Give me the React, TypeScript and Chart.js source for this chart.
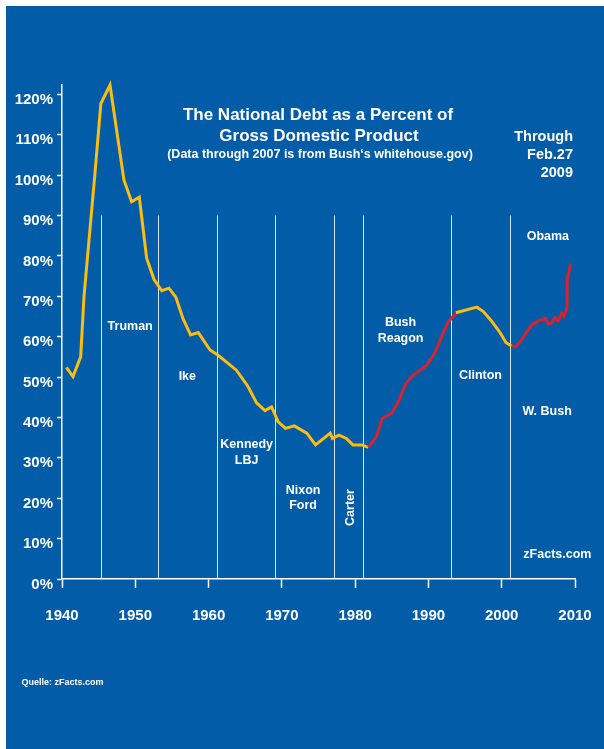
import React, { useEffect, useRef } from "react";
import { Chart, registerables } from "chart.js";

Chart.register(...registerables);

// ---- data ----
const years = [
  1940.6, 1941.5, 1942.55, 1943.0, 1944.5, 1945.3, 1946.55, 1948.45, 1949.5, 1950.55,
  1951.55, 1952.55, 1953.6, 1954.6, 1955.55, 1956.5, 1957.55, 1958.6, 1960.2, 1961.3,
  1963.8, 1965.4, 1966.55, 1967.7, 1968.6, 1969.5, 1970.5, 1971.7, 1973.4, 1974.6,
  1976.6, 1976.9, 1977.8, 1978.8, 1979.7, 1980.9, 1981.8, 1982.9, 1983.7, 1985.0,
  1986.0, 1986.9, 1987.7, 1989.7, 1990.9, 1991.8, 1992.7, 1993.6, 1993.75, 1996.6,
  1997.5, 1998.6, 1999.7, 2000.6, 2001.35, 2001.9, 2002.7, 2004.1, 2005.0, 2006.0,
  2006.35, 2006.8, 2007.25, 2007.7, 2008.2, 2008.5, 2008.9, 2008.95, 2009.2, 2009.4,
];
const debtPct = [
  52.4, 50.1, 55.0, 69.9, 100.5, 117.7, 122.3, 98.8, 93.4, 94.5,
  79.4, 74.2, 71.4, 72.0, 69.7, 64.5, 60.4, 61.0, 56.7, 55.4,
  51.7, 47.6, 43.6, 41.7, 42.6, 38.9, 37.3, 37.9, 36.1, 33.2,
  36.1, 34.8, 35.6, 34.8, 33.2, 33.2, 32.6, 35.2, 39.8, 41.0,
  44.3, 48.3, 50.1, 52.8, 56.0, 60.0, 63.7, 65.5, 65.9, 67.3,
  66.2, 63.9, 61.2, 58.5, 57.7, 57.5, 59.2, 62.9, 63.9, 64.5,
  63.1, 63.4, 64.8, 63.9, 65.8, 65.1, 67.0, 74.7, 76.1, 78.1,
];
// spans drawn in red (Republican administrations 1981-93, 2001-09)
const redSpans: [number, number][] = [
  [1981.5, 1993.65],
  [2001.3, 2010],
];
// start of each administration (vertical separators)
const termStarts = [1945.3, 1953.1, 1961.1, 1969.1, 1977.1, 1981.1, 1993.1, 2001.1];
const termLineTopPct = 90;

const xMin = 1940;
const xMax = 2010;
const yMin = 0;
const yMax = 122.3;
const yStep = 10;
const xStep = 10;

const presidentLabels = [
  { lines: ["Truman"], year: 1949.3, pct: 62.6, rotate: false },
  { lines: ["Ike"], year: 1957.1, pct: 50.2, rotate: false },
  { lines: ["Kennedy", "LBJ"], year: 1965.2, pct: 33.2, rotate: false },
  { lines: ["Nixon", "Ford"], year: 1972.9, pct: 21.9, rotate: false },
  { lines: ["Carter"], year: 1979.4, pct: 17.7, rotate: true },
  { lines: ["Bush", "Reagon"], year: 1986.2, pct: 63.4, rotate: false },
  { lines: ["Clinton"], year: 1997.1, pct: 50.3, rotate: false },
  { lines: ["W. Bush"], year: 2006.2, pct: 41.4, rotate: false },
  { lines: ["Obama"], year: 2006.3, pct: 84.9, rotate: false },
  { lines: ["zFacts.com"], year: 2007.6, pct: 6.0, rotate: false },
];

const titleLines = ["The National Debt as a Percent of", "Gross Domestic Product"];
const subtitle = "(Data through 2007 is from Bush\u2018s whitehouse.gov)";
const throughLines = ["Through", "Feb.27", "2009"];
const sourceText = "Quelle: zFacts.com";

// ---- styles ----
const BLUE = "#035CA8";
const YELLOW = "#FBBD12";
const RED = "#D8232E";
const WHITE = "#FFFFFF";
const FONT = '"Liberation Sans", Arial, Helvetica, sans-serif';

const isRed = (x: number) => redSpans.some(([a, b]) => x >= a && x < b);

const bgPlugin = {
  id: "bgPlugin",
  beforeDraw(chart: any) {
    const { ctx, width, height } = chart;
    ctx.save();
    ctx.fillStyle = "#FFFFFF";
    ctx.fillRect(0, 0, width, height);
    ctx.fillStyle = BLUE;
    ctx.fillRect(6, 6, width - 6, height - 6);
    ctx.restore();
  },
};

const termPlugin = {
  id: "termPlugin",
  beforeDatasetsDraw(chart: any) {
    const { ctx, scales } = chart;
    const xs = scales.x;
    const ys = scales.y;
    ctx.save();
    ctx.strokeStyle = "rgba(255,255,255,0.85)";
    ctx.lineWidth = 1;
    const top = ys.getPixelForValue(termLineTopPct);
    const bottom = ys.getPixelForValue(0);
    termStarts.forEach((yr) => {
      const px = Math.round(xs.getPixelForValue(yr)) + 0.5;
      ctx.beginPath();
      ctx.moveTo(px, top);
      ctx.lineTo(px, bottom);
      ctx.stroke();
    });
    ctx.restore();
  },
};

const textPlugin = {
  id: "textPlugin",
  afterDraw(chart: any) {
    const { ctx, scales } = chart;
    const xs = scales.x;
    const ys = scales.y;
    ctx.save();
    ctx.fillStyle = WHITE;
    ctx.textBaseline = "middle";

    // president labels
    ctx.font = `bold 12.5px ${FONT}`;
    presidentLabels.forEach((l) => {
      const px = xs.getPixelForValue(l.year);
      const py = ys.getPixelForValue(l.pct);
      if (l.rotate) {
        ctx.save();
        ctx.translate(px, py);
        ctx.rotate(-Math.PI / 2);
        ctx.textAlign = "center";
        ctx.fillText(l.lines[0], 0, 0);
        ctx.restore();
      } else {
        ctx.textAlign = "center";
        l.lines.forEach((t, i) => ctx.fillText(t, px, py + i * 15.5));
      }
    });

    // title
    ctx.textAlign = "center";
    ctx.font = `bold 17px ${FONT}`;
    ctx.fillText(titleLines[0], 318, 115);
    ctx.fillText(titleLines[1], 319, 136.5);
    ctx.font = `bold 12.5px ${FONT}`;
    ctx.fillText(subtitle, 320, 155);

    // through
    ctx.textAlign = "right";
    ctx.font = `bold 14.5px ${FONT}`;
    throughLines.forEach((t, i) => ctx.fillText(t, 573, 136.5 + i * 18));

    // source
    ctx.textAlign = "left";
    ctx.font = `bold 9px ${FONT}`;
    ctx.fillText(sourceText, 21.5, 683);
    ctx.restore();
  },
};

export default function App() {
  const canvasRef = useRef<HTMLCanvasElement | null>(null);

  useEffect(() => {
    if (!canvasRef.current) return;
    const points = years.map((x, i) => ({ x, y: debtPct[i] }));
    const chart = new Chart(canvasRef.current, {
      type: "line",
      data: {
        datasets: [
          {
            data: points,
            borderColor: YELLOW,
            borderWidth: 3,
            pointRadius: 0,
            tension: 0,
            clip: false as any,
            segment: {
              borderColor: (ctx: any) => (isRed(ctx.p0.parsed.x) ? RED : YELLOW),
            },
          },
        ],
      },
      options: {
        animation: false,
        responsive: false,
        devicePixelRatio: 1,
        parsing: false as any,
        layout: { padding: { left: 0, top: 85, right: 29, bottom: 120 } },
        plugins: {
          legend: { display: false },
          tooltip: { enabled: false },
          title: { display: false },
        },
        scales: {
          x: {
            type: "linear",
            min: xMin,
            max: xMax,
            afterFit: (s: any) => {
              s.height = 50;
              s.paddingLeft = 0;
              s.paddingRight = 0;
            },
            ticks: {
              stepSize: xStep,
              color: WHITE,
              padding: 19,
              font: { family: FONT, size: 15, weight: "bold" },
              callback: (v: any) => String(v),
              maxRotation: 0,
            },
            grid: {
              drawOnChartArea: false,
              drawTicks: true,
              tickLength: 9,
              tickColor: WHITE,
              tickWidth: 1.5,
            },
            border: { display: true, color: WHITE, width: 1.5 },
          },
          y: {
            type: "linear",
            min: yMin,
            max: yMax,
            afterFit: (s: any) => {
              s.width = 62;
              s.paddingTop = 0;
              s.paddingBottom = 0;
            },
            afterBuildTicks: (s: any) => {
              s.ticks = s.ticks.filter((t: any) => Math.abs(t.value % yStep) < 1e-6);
            },
            ticks: {
              stepSize: yStep,
              includeBounds: false,
              color: WHITE,
              padding: 4,
              labelOffset: 5.5,
              font: { family: FONT, size: 15, weight: "bold" },
              callback: (v: any) => `${v}%`,
            },
            grid: {
              drawOnChartArea: false,
              drawTicks: true,
              tickLength: 5,
              tickColor: WHITE,
              tickWidth: 1.5,
            },
            border: { display: true, color: WHITE, width: 1.5 },
          },
        },
      },
      plugins: [bgPlugin, termPlugin, textPlugin],
    } as any);
    return () => chart.destroy();
  }, []);

  return (
    <div style={{ position: "fixed", left: 0, top: 0, width: 604, height: 749 }}>
      <canvas ref={canvasRef} width={604} height={749} style={{ width: 604, height: 749, display: "block" }} />
    </div>
  );
}
